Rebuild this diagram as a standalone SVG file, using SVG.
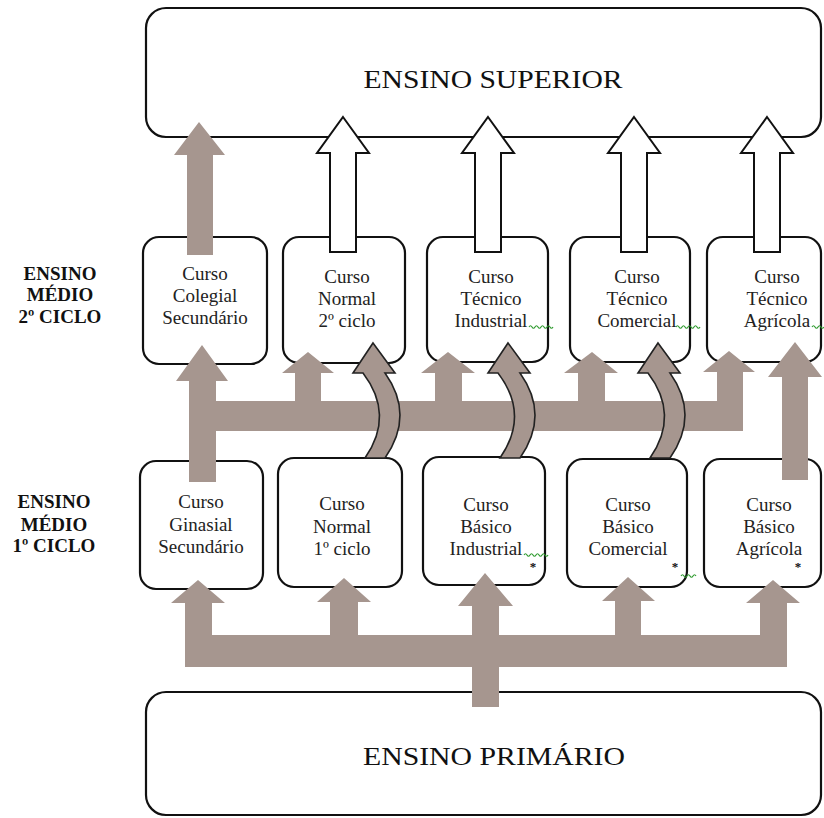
<svg xmlns="http://www.w3.org/2000/svg" width="824" height="818" viewBox="0 0 824 818">
<style>
.box{fill:#fff;stroke:#111;stroke-width:2.2}
.big{font-family:"Liberation Serif","Times New Roman",serif;font-size:26px;fill:#111;text-anchor:middle}
.t{font-family:"Liberation Serif","Times New Roman",serif;font-size:19px;fill:#222;text-anchor:middle}
.lab{font-family:"Liberation Serif","Times New Roman",serif;font-size:19px;font-weight:bold;fill:#111;text-anchor:middle}
.ast{font-family:"Liberation Serif",serif;font-size:13px;font-weight:bold;fill:#111;text-anchor:middle}
.g{fill:#a6968f;stroke:none}
.c{fill:#a6968f;stroke:#222;stroke-width:1.6;stroke-linejoin:miter}
.w{fill:#fff;stroke:#111;stroke-width:2}
.sq{fill:none;stroke:#2e9a2e;stroke-width:1.2}
</style>
<rect width="824" height="818" fill="#fff"/>
<g id="superior"><rect class="box" x="146" y="8" width="675" height="129" rx="20"/><text class="big" x="493" y="88" textLength="259" lengthAdjust="spacingAndGlyphs">ENSINO SUPERIOR</text></g>
<g id="primario"><rect class="box" x="146" y="692" width="675" height="123" rx="20"/><text class="big" x="494" y="765" textLength="262" lengthAdjust="spacingAndGlyphs">ENSINO PRIMÁRIO</text></g>
<g id="label2"><text class="lab" x="60" y="280">ENSINO</text><text class="lab" x="60" y="301">MÉDIO</text><text class="lab" x="60" y="323">2º CICLO</text></g>
<g id="label1"><text class="lab" x="54" y="508">ENSINO</text><text class="lab" x="54" y="531">MÉDIO</text><text class="lab" x="54" y="552">1º CICLO</text></g>
<g id="colegial"><rect class="box" x="143" y="237" width="124" height="127" rx="16"/><text class="t" x="205" y="280">Curso</text><text class="t" x="205" y="302">Colegial</text><text class="t" x="205" y="324">Secundário</text></g>
<g id="normal2"><rect class="box" x="283" y="237" width="122" height="126" rx="16"/><text class="t" x="347" y="283">Curso</text><text class="t" x="347" y="305">Normal</text><text class="t" x="347" y="327">2º ciclo</text></g>
<g id="tecind"><rect class="box" x="427" y="237" width="121" height="125" rx="16"/><text class="t" x="491" y="283">Curso</text><text class="t" x="491" y="305">Técnico</text><text class="t" x="491" y="327">Industrial</text><path class="sq" d="M529,327 q1.5,-2.5 3,0 t3,0 t3,0 t3,0 t3,0 t3,0 t3,0 t3,0"/></g>
<g id="teccom"><rect class="box" x="570" y="237" width="120" height="125" rx="16"/><text class="t" x="637" y="283">Curso</text><text class="t" x="637" y="305">Técnico</text><text class="t" x="637" y="327">Comercial</text><path class="sq" d="M676,327 q1.5,-2.5 3,0 t3,0 t3,0 t3,0 t3,0 t3,0 t3,0 t3,0"/></g>
<g id="tecagr"><rect class="box" x="707" y="237" width="114" height="125" rx="16"/><text class="t" x="777" y="283">Curso</text><text class="t" x="777" y="305">Técnico</text><text class="t" x="777" y="327">Agrícola</text><path class="sq" d="M812,327 q1.5,-2.5 3,0 t3,0 t3,0 t3,0"/></g>
<g id="ginasial"><rect class="box" x="140" y="461" width="123" height="128" rx="16"/><text class="t" x="201" y="508">Curso</text><text class="t" x="201" y="531">Ginasial</text><text class="t" x="201" y="553">Secundário</text></g>
<g id="normal1"><rect class="box" x="278" y="458" width="124" height="129" rx="16"/><text class="t" x="342" y="510">Curso</text><text class="t" x="342" y="533">Normal</text><text class="t" x="342" y="555">1º ciclo</text></g>
<g id="basind"><rect class="box" x="423" y="457" width="122" height="128" rx="16"/><text class="t" x="486" y="511">Curso</text><text class="t" x="486" y="533">Básico</text><text class="t" x="486" y="555">Industrial</text><path class="sq" d="M524,555 q1.5,-2.5 3,0 t3,0 t3,0 t3,0 t3,0 t3,0 t3,0 t3,0"/><text class="ast" x="533" y="571">*</text></g>
<g id="bascom"><rect class="box" x="567" y="459" width="120" height="128" rx="16"/><text class="t" x="628" y="511">Curso</text><text class="t" x="628" y="533">Básico</text><text class="t" x="628" y="555">Comercial</text><path class="sq" d="M681,576 q1.5,-2.5 3,0 t3,0 t3,0 t3,0 t3,0"/><text class="ast" x="675" y="571">*</text></g>
<g id="basagr"><rect class="box" x="704" y="459" width="117" height="128" rx="16"/><text class="t" x="769" y="511">Curso</text><text class="t" x="769" y="533">Básico</text><text class="t" x="769" y="555">Agrícola</text><text class="ast" x="798" y="571">*</text></g>
<g id="connectors">
<path class="w" d="M343,117 L369,153 L356,153 L356,252 L330,252 L330,153 L317,153 Z"/>
<path class="w" d="M488,117 L514,153 L501,153 L501,252 L475,252 L475,153 L462,153 Z"/>
<path class="w" d="M634,117 L660,153 L647,153 L647,252 L621,252 L621,153 L608,153 Z"/>
<path class="w" d="M767,117 L793,153 L780,153 L780,252 L754,252 L754,153 L741,153 Z"/>
<path class="g" d="M199,122 L225,155 L213,155 L213,255 L187,255 L187,155 L174,155 Z"/>
<path class="g" d="M202,345 L228,381 L216,381 L216,482 L189,482 L189,381 L176,381 Z"/>
<rect class="g" x="215" y="401" width="528" height="30"/>
<path class="g" d="M308,352 L334,373 L321,373 L321,402 L295,402 L295,373 L282,373 Z"/>
<path class="g" d="M448,352 L475,373 L462,373 L462,402 L435,402 L435,373 L421,373 Z"/>
<path class="g" d="M592,352 L618,373 L605,373 L605,402 L578,402 L578,373 L564,373 Z"/>
<path class="g" d="M729,351 L755,372 L743,372 L743,402 L717,402 L717,372 L703,372 Z"/>
<path class="g" d="M795,342 L822,377 L808,377 L808,480 L782,480 L782,377 L768,377 Z"/>
<path class="c" d="M373,343 L395,373 L385,373 Q415,415 385,458 L365,458 Q395,415 363,373 L353,373 Z"/>
<path class="c" d="M508,343 L530,373 L520,373 Q550,415 520,458 L500,458 Q530,415 498,373 L488,373 Z"/>
<path class="c" d="M658,343 L680,373 L670,373 Q700,415 670,458 L650,458 Q680,415 648,373 L638,373 Z"/>
<rect class="g" x="185" y="635" width="602" height="32"/>
<rect class="g" x="472" y="666" width="27" height="41"/>
<path class="g" d="M198,580 L225,603 L212,603 L212,636 L185,636 L185,603 L171,603 Z"/>
<path class="g" d="M344,578 L371,602 L358,602 L358,636 L330,636 L330,602 L317,602 Z"/>
<path class="g" d="M485,573 L513,606 L499,606 L499,636 L472,636 L472,606 L458,606 Z"/>
<path class="g" d="M628,577 L655,601 L641,601 L641,636 L615,636 L615,601 L602,601 Z"/>
<path class="g" d="M773,580 L800,603 L787,603 L787,636 L760,636 L760,603 L746,603 Z"/>
</g>
</svg>
